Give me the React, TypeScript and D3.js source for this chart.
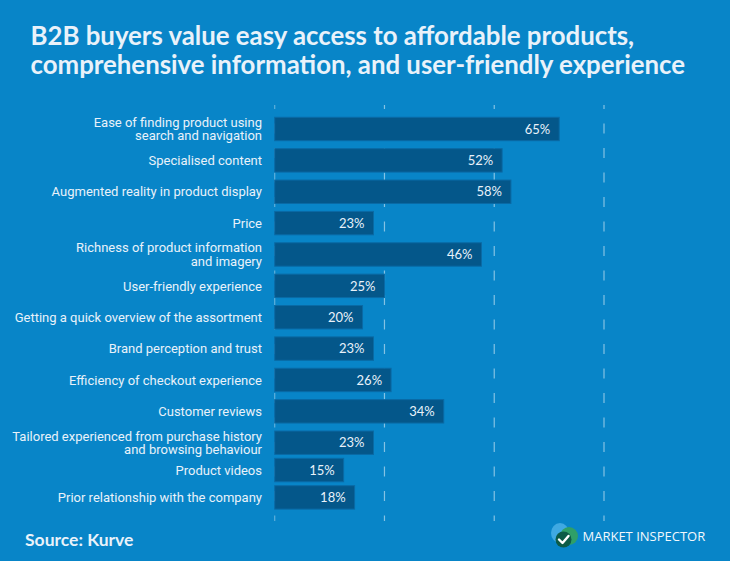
import React from "react";
import * as d3 from "d3";

const categories: string[][] = [
  ["Ease of finding product using", "search and navigation"],
  ["Specialised content"],
  ["Augmented reality in product display"],
  ["Price"],
  ["Richness of product information", "and imagery"],
  ["User-friendly experience"],
  ["Getting a quick overview of the assortment"],
  ["Brand perception and trust"],
  ["Efficiency of checkout experience"],
  ["Customer reviews"],
  ["Tailored experienced from purchase history", "and browsing behaviour"],
  ["Product videos"],
  ["Prior relationship with the company"],
];
// bar lengths as drawn in the reference (on the 0–75 grid)
const barValues: number[] = [64.8, 51.8, 53.8, 22.5, 47.1, 25, 20, 22.5, 26.5, 38.5, 22.5, 15.7, 18.2];
// percentages printed on the bars
const labelValues: string[] = ["65%", "52%", "58%", "23%", "46%", "25%", "20%", "23%", "26%", "34%", "23%", "15%", "18%"];
const gridTicks: number[] = [0, 25, 50, 75];

const title = [
  "B2B buyers value easy access to affordable products,",
  "comprehensive information, and user-friendly experience",
];

const W = 730;
const H = 561;
const BG = "#0885c8";
const BAR = "#04578a";
const BAR_STROKE = "#0a6aa5";
const TXT = "#e9f2fa";

export default function App() {
  const x = d3.scaleLinear().domain([0, 75]).range([274.7, 604]);
  // bar top positions by index (last two rows are tighter in the reference)
  const yTop = d3.scaleLinear().domain([0, 10, 12]).range([117.3, 431, 485.7]);
  const barH = 23.4;

  return (
    <svg width={W} height={H} style={{ position: "absolute", left: 0, top: 0 }}>
      <rect x={0} y={0} width={W} height={H} fill={BG} />
      <g fontFamily="Lato, sans-serif" fontWeight={700} fontSize={25.8} fill={TXT}>
        {title.map((t, i) => (
          <text key={i} x={30.5} y={45 + i * 28.8}>
            {t}
          </text>
        ))}
      </g>

      {gridTicks.map((t) => (
        <line
          key={t}
          x1={x(t)}
          x2={x(t)}
          y1={105}
          y2={521}
          stroke="#ffffff"
          strokeOpacity={t === 0 ? 0.35 : 0.5}
          strokeWidth={1.2}
          strokeDasharray="10,14.5"
          strokeDashoffset={6}
        />
      ))}

      {barValues.map((v, i) => {
        const y0 = yTop(i);
        const cy = y0 + barH / 2;
        const lines = categories[i];
        return (
          <g key={i}>
            <rect
              x={x(0)}
              y={y0}
              width={x(v) - x(0)}
              height={barH}
              fill={BAR}
              stroke={BAR_STROKE}
              strokeWidth={1}
            />
            <text
              x={x(v) - 9}
              y={cy}
              dy="0.36em"
              textAnchor="end"
              fontFamily="Lato, sans-serif"
              fontSize={13}
              fill={TXT}
            >
              {labelValues[i]}
            </text>
            <text
              x={262}
              textAnchor="end"
              fontFamily="Roboto, sans-serif"
              fontSize={13}
              fill={TXT}
            >
              {lines.map((l, j) => (
                <tspan
                  key={j}
                  x={262}
                  y={cy + 4.7 + (j - (lines.length - 1) / 2) * 13.4}
                >
                  {l}
                </tspan>
              ))}
            </text>
          </g>
        );
      })}

      <text
        x={25}
        y={546}
        fontFamily="Lato, sans-serif"
        fontWeight={700}
        fontSize={17.5}
        fill={TXT}
      >
        Source: Kurve
      </text>

      <g>
        <ellipse cx={560} cy={533} rx={9} ry={10} fill="#3fa9e2" />
        <ellipse cx={569} cy={536} rx={9} ry={9} fill="#2f9f68" />
        <circle cx={563.5} cy={539.5} r={8} fill="#0c5b47" />
        <path
          d="M559 539.5 L562.5 543 L568.5 536"
          fill="none"
          stroke="#ffffff"
          strokeWidth={2.4}
          strokeLinecap="round"
          strokeLinejoin="round"
        />
      </g>
      <text
        x={582.5}
        y={541}
        fontFamily="'Open Sans', sans-serif"
        fontSize={13}
        fill="#f2f8fd"
      >
        MARKET INSPECTOR
      </text>
    </svg>
  );
}
